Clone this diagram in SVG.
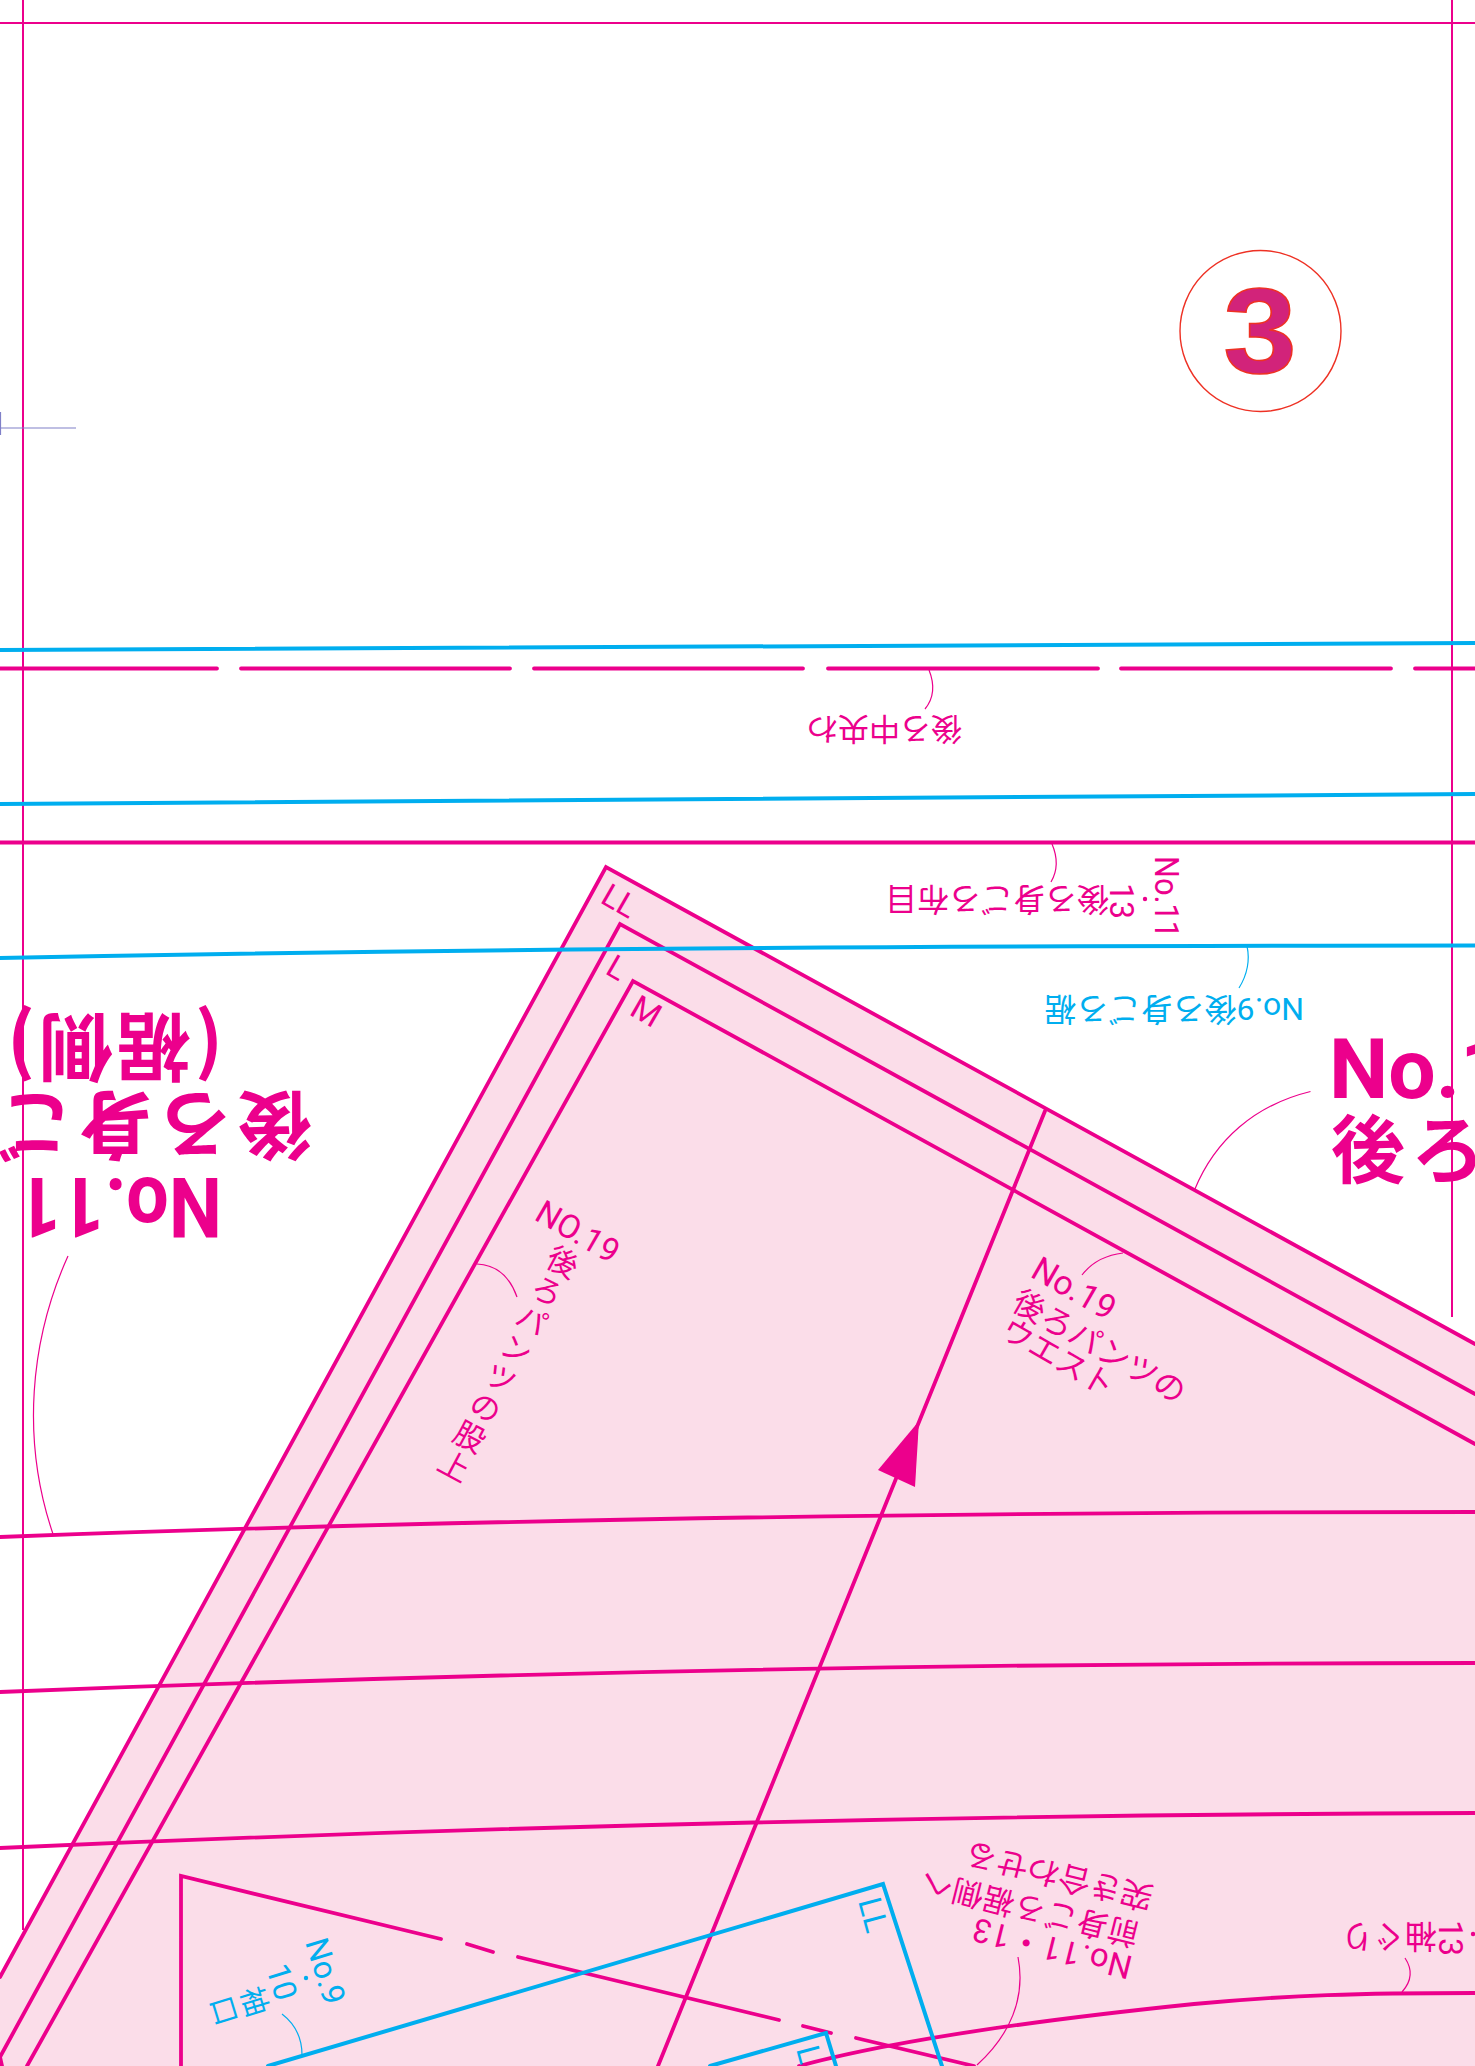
<svg xmlns="http://www.w3.org/2000/svg" width="1475" height="2066" viewBox="0 0 1475 2066">
<style>
text{font-family:Roboto,"Noto Sans CJK JP",sans-serif;font-size:32px}
.p{fill:#ec008c}.b{fill:#00aeef}
.v{writing-mode:vertical-rl}
.big{font-weight:700;font-size:84px}
.jbig{font-family:"Noto Sans CJK JP",sans-serif;font-weight:700;font-size:74px}
.l{fill:none;stroke-linecap:round}
.pk{stroke:#ec008c;stroke-width:3.8}
.bl{stroke:#00aeef;stroke-width:4}
.fr{stroke:#ec008c;stroke-width:2;fill:none}
.lp{stroke:#ec008c;stroke-width:1.2;fill:none}
.lb{stroke:#00aeef;stroke-width:1.2;fill:none}
</style>
<rect width="1475" height="2066" fill="#fff"/>
<g id="sheet-frame">
<path class="fr" d="M0 23H1475M23 0V1930M1452 0V1317"/>
<path d="M0 428H76M0.5 412V435" fill="none" stroke="#8080c8" stroke-width="1.2"/>
</g>
<g id="sheet-number">
<circle cx="1260.5" cy="331" r="80.5" fill="none" stroke="#ee3124" stroke-width="1.4"/>
<text transform="translate(1260 373) scale(1.1 1)" text-anchor="middle" style="font-family:'Liberation Sans',sans-serif;font-size:120px;font-weight:700" fill="#d2237a" stroke="#ee3124" stroke-width="1.5">3</text>
</g>
<g id="pattern-piece">
<path d="M606 867L1475 1344V2066H0V1977Z" fill="#fbdde9"/>
</g>
<g id="connectors">
<g class="l pk">
<path d="M0 668.5H217M241 668.5H510M534 668.5H803M828 668.5H1098M1121 668.5H1391M1415 668.5H1475"/>
<path d="M0 842.5H1475"/>
<path d="M0 1537C400 1522 900 1512 1475 1512"/>
<path d="M0 1692C400 1676 900 1663 1475 1663"/>
<path d="M0 1848C400 1830 900 1815 1475 1813"/>
<path d="M799 2066C880 2044 1000 2024 1194 2004C1290 1995 1360 1993 1475 1993"/>
<path d="M0 1977L606 867L1475 1344"/>
<path d="M2 2066L0 2057L620 924L1475 1394"/>
<path d="M27 2066L633 981L1475 1444"/>
<path d="M1045 1111L658 2066"/>
<path d="M181 2066V1876L441 1939M467 1944L493 1952M518 1957L779 2020M803 2026L831 2033M856 2038L974 2066"/>
</g>
<polygon points="919,1421 878,1470 915,1487" class="p"/>
<g class="l bl">
<path d="M0 650C400 644 800 643 1475 643"/>
<path d="M0 804C400 797 800 794 1475 794"/>
<path d="M0 958C400 950 800 946 1475 945.5"/>
<path d="M268 2066L883 1884L942 2066"/>
<path d="M710 2066L826 2033L836 2066"/>
</g>
<path class="lp" d="M929 670C935 685 934 698 925 709"/>
<path class="lp" d="M1052 844C1058 858 1058 870 1051 882"/>
<path class="lb" d="M1247 946C1250 960 1247 975 1239 988"/>
<path class="lp" d="M1310.5 1091.5C1255 1105 1215 1140 1194.5 1190"/>
<path class="lp" d="M68 1256C30 1340 21 1440 53 1534"/>
<path class="lp" d="M477 1264C497 1265 510 1277 517 1297"/>
<path class="lp" d="M1082 1275C1092 1262 1106 1255 1123 1253"/>
<path class="lb" d="M282 2014C295 2024 302 2038 302 2055"/>
<path class="lp" d="M1018 1957C1026 1998 1010 2035 977 2065"/>
<path class="lp" d="M1405 1958C1413 1970 1411 1982 1402 1992"/>
</g>
<g id="label-no11-left">
<text class="p big" transform="translate(222 1178) rotate(180)" textLength="204" lengthAdjust="spacingAndGlyphs">No.11</text>
<text class="p jbig" transform="translate(312 1098) rotate(180)" letter-spacing="6">後ろ身ご</text>
<text class="p jbig" transform="translate(223 1020) rotate(180)" letter-spacing="4">(裾側)</text>
</g>
<g id="label-no1-right">
<text class="p big" x="1329" y="1098">No.1</text>
<text class="p jbig" x="1331" y="1177" letter-spacing="6">後ろ</text>
</g>
<g id="label-center-back">
<text class="p" transform="translate(962 718) rotate(180)" style="font-size:31px">後ろ中央わ</text>
</g>
<g id="label-no11-13-grain">
<text class="p" transform="translate(1155 856) rotate(90)" style="font-size:33px" textLength="82" lengthAdjust="spacingAndGlyphs">No.11</text>
<circle cx="1145" cy="899" r="2.2" class="p"/>
<text class="p" transform="translate(1110 883) rotate(90)" style="font-size:33px" textLength="36" lengthAdjust="spacingAndGlyphs">13</text>
<text class="p" transform="translate(1109 888) rotate(180)">後ろ身ごろ布目</text>
</g>
<g id="label-no9-hem">
<text class="b" transform="translate(1304 998) rotate(180)">No.9後ろ身ごろ裾</text>
</g>
<g id="label-ll"><text class="p" transform="translate(599 902) rotate(30)">LL</text></g>
<g id="label-l"><text class="p" transform="translate(604 973) rotate(30)">L</text></g>
<g id="label-m"><text class="p" transform="translate(628 1014) rotate(30)" style="font-size:33px">M</text></g>
<g id="label-no19-rise">
<text class="p" transform="translate(533 1219) rotate(30)" style="font-size:33px">NO.19</text>
<text class="p v" transform="translate(567.5 1246.5) rotate(28)" style="font-size:31px" letter-spacing="2">後ろパンツの股上</text>
</g>
<g id="label-no19-waist">
<text class="p" transform="translate(1029 1276) rotate(30)" style="font-size:34px">No.19</text>
<text class="p" transform="translate(1010 1308) rotate(30)">後ろパンツの</text>
<text class="p" transform="translate(999 1336) rotate(30)" style="font-size:31px">ウエスト</text>
</g>
<g id="label-no9-10-cuff">
<text class="b" transform="translate(305 1942) rotate(73)">No.9</text>
<circle cx="306" cy="1978" r="2.2" class="b"/>
<text class="b" transform="translate(266 1968) rotate(73)">10</text>
<text class="b v" transform="translate(268 1994) rotate(73)" style="font-size:29px" letter-spacing="3">袖口</text>
</g>
<g id="label-no11-13-front">
<text class="p" transform="translate(1134 1957) rotate(194)" style="font-size:33px" textLength="163">No.11・13</text>
<text class="p" transform="translate(1141 1925) rotate(194)" style="font-size:31px" letter-spacing="1">前身ごろ裾側へ</text>
<text class="p" transform="translate(1155 1888) rotate(194)">突き合わせる</text>
</g>
<g id="label-no13-sleeve">
<text class="p" transform="translate(1439 1920) rotate(90)" style="font-size:33px" textLength="36" lengthAdjust="spacingAndGlyphs">13</text>
<circle cx="1473" cy="1934" r="2.2" class="p"/>
<text class="p" transform="translate(1437 1925) rotate(180)">袖ぐり</text>
</g>
<g id="label-ll-blue">
<text class="b" transform="translate(858 1901) rotate(75)">LL</text>
<text class="b" transform="translate(796 2049) rotate(75)">L</text>
</g>
</svg>
